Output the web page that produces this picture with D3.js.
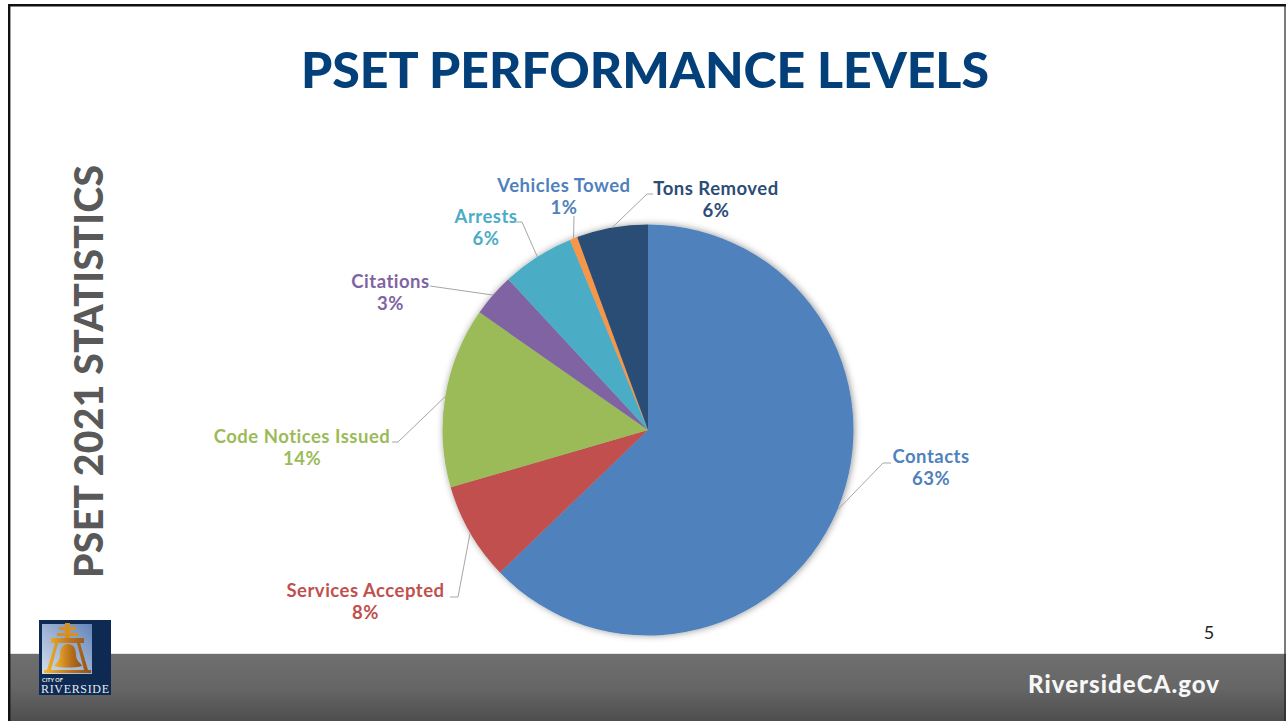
<!DOCTYPE html>
<html>
<head>
<meta charset="utf-8">
<title>PSET Performance Levels</title>
<script src="https://cdnjs.cloudflare.com/ajax/libs/d3/7.8.5/d3.min.js"></script>
<style>
html, body { margin: 0; padding: 0; background: #fff; overflow: hidden; }
svg { display: block; }
text { font-family: Lato, "Open Sans", sans-serif; font-weight: 700; }
</style>
</head>
<body>
<div id="slide"></div>
<script>
var width = 1286,
    height = 721;

// values, in percent
var categories = ["Contacts", "Services Accepted", "Code Notices Issued", "Citations", "Arrests", "Vehicles Towed", "Tons Removed"];
var shares = [62.8, 7.7, 14.2, 3.4, 5.7, 0.6, 5.6];
var sliceColors = ["#4f81bd", "#c0504d", "#9bbb59", "#8064a2", "#4bacc6", "#f79646", "#2c4d75"];
var labelColors = ["#4f81bd", "#c0504d", "#9bbb59", "#8064a2", "#4bacc6", "#4f81bd", "#2c4d75"];

// where the labels sit and how the leaders bend
var labelSpots = [[931, 463], [365.5, 597], [302, 443], [390.5, 288], [486, 223], [564, 192], [716, 195]];
var leaderBends = [[[883, 463], [891, 463]], [[458, 597], [450, 597]], [[398, 442], [392, 442]], [[430, 286], [430, 286]], [[522, 222], [515, 222]], [[574, 216], [574, 216]], [[647, 194], [653, 194]]];

var svg = d3.select("#slide")
    .append("svg")
    .attr("width", width)
    .attr("height", height);

var defs = svg.append("defs");

var footerFill = defs.append("linearGradient")
    .attr("id", "footerFill")
    .attr("x1", 0).attr("y1", 0).attr("x2", 0).attr("y2", 1);
footerFill.append("stop").attr("offset", "0%").attr("stop-color", "#6f6f6f");
footerFill.append("stop").attr("offset", "50%").attr("stop-color", "#666666");
footerFill.append("stop").attr("offset", "100%").attr("stop-color", "#4e4e4e");

var skyFill = defs.append("linearGradient")
    .attr("id", "skyFill")
    .attr("x1", 0).attr("y1", 1).attr("x2", 1).attr("y2", 0);
skyFill.append("stop").attr("offset", "0%").attr("stop-color", "#d5deee");
skyFill.append("stop").attr("offset", "100%").attr("stop-color", "#6485b8");

var bellFill = defs.append("linearGradient")
    .attr("id", "bellFill")
    .attr("x1", 0).attr("y1", 0).attr("x2", 1).attr("y2", 0);
bellFill.append("stop").attr("offset", "0%").attr("stop-color", "#f5b82a");
bellFill.append("stop").attr("offset", "60%").attr("stop-color", "#b8701c");
bellFill.append("stop").attr("offset", "100%").attr("stop-color", "#8f5218");

var pieShadow = defs.append("filter")
    .attr("id", "pieShadow")
    .attr("x", "-10%").attr("y", "-10%").attr("width", "120%").attr("height", "120%");
pieShadow.append("feDropShadow")
    .attr("dx", 1).attr("dy", 0)
    .attr("stdDeviation", 3.5)
    .attr("flood-color", "#000")
    .attr("flood-opacity", 0.42);

// slide frame and footer
svg.append("rect")
    .attr("x", 10).attr("y", 654)
    .attr("width", width - 10).attr("height", height - 654)
    .attr("fill", "url(#footerFill)");
svg.append("line")
    .attr("x1", 10).attr("y1", 653.5).attr("x2", width).attr("y2", 653.5)
    .attr("stroke", "#e4e4e4");
svg.append("path")
    .attr("d", "M9.2," + height + "V5.2H" + width)
    .attr("fill", "none")
    .attr("stroke", "#111")
    .attr("stroke-width", 2.4);
svg.append("line")
    .attr("x1", width - 1).attr("y1", 5).attr("x2", width - 1).attr("y2", height)
    .attr("stroke", "#222").attr("stroke-width", 1.2);

svg.append("text")
    .attr("x", 645).attr("y", 88)
    .attr("text-anchor", "middle")
    .attr("font-size", 50)
    .attr("textLength", 688)
    .attr("fill", "#03407a")
    .style("font-weight", 900)
    .text("PSET PERFORMANCE LEVELS");

svg.append("text")
    .attr("transform", "translate(103,578) rotate(-90)")
    .attr("font-size", 39)
    .attr("textLength", 413)
    .attr("fill", "#595959")
    .style("font-weight", 900)
    .text("PSET 2021 STATISTICS");

svg.append("text")
    .attr("x", 1209).attr("y", 639)
    .attr("text-anchor", "middle")
    .attr("font-size", 18)
    .attr("fill", "#222")
    .style("font-weight", 400)
    .text("5");

svg.append("text")
    .attr("x", 1028).attr("y", 693)
    .attr("font-size", 24)
    .attr("textLength", 191)
    .attr("fill", "#f7f7f7")
    .style("font-weight", 900)
    .text("RiversideCA.gov");

// the pie
var radius = 205.5;
var centerX = 648,
    centerY = 430;

var pie = d3.pie().sort(null)(shares);
var arc = d3.arc().innerRadius(0).outerRadius(radius);
var edge = d3.arc().innerRadius(radius).outerRadius(radius);

var chart = svg.append("g")
    .attr("transform", "translate(" + centerX + "," + centerY + ")");

chart.append("g")
    .attr("filter", "url(#pieShadow)")
    .selectAll("path")
    .data(pie)
    .enter()
    .append("path")
    .attr("d", arc)
    .attr("fill", function(d, i) { return sliceColors[i]; });

var leader = d3.line();
svg.append("g")
    .selectAll("path")
    .data(pie)
    .enter()
    .append("path")
    .attr("d", function(d, i) {
      var c = edge.centroid(d);
      return leader([[c[0] + centerX, c[1] + centerY]].concat(leaderBends[i]));
    })
    .attr("fill", "none")
    .attr("stroke", "#a6a6a6")
    .attr("stroke-width", 1);

var labels = svg.append("g")
    .selectAll("text")
    .data(categories)
    .enter()
    .append("text")
    .attr("text-anchor", "middle")
    .attr("font-size", 18.5)
    .attr("letter-spacing", 0.5)
    .attr("fill", function(d, i) { return labelColors[i]; });

labels.append("tspan")
    .attr("x", function(d, i) { return labelSpots[i][0]; })
    .attr("y", function(d, i) { return labelSpots[i][1]; })
    .text(function(d) { return d; });

labels.append("tspan")
    .attr("x", function(d, i) { return labelSpots[i][0]; })
    .attr("y", function(d, i) { return labelSpots[i][1] + 22; })
    .text(function(d, i) { return Math.round(shares[i]) + "%"; });

// city logo
var logo = svg.append("g").attr("transform", "translate(39,620)");
logo.append("rect").attr("width", 72).attr("height", 75).attr("fill", "#0f2a52");
logo.append("rect").attr("x", 3).attr("y", 4).attr("width", 50).attr("height", 50)
    .attr("fill", "url(#skyFill)");
logo.append("path")
    .attr("d", "M26,3h5v4h6v3h-6v3h8v3h-8v3h-5v-3h-8v-3h8v-3h-6v-3h6z")
    .attr("fill", "#d98f1e");
logo.append("path")
    .attr("d", "M12,18h33v5h-4l8,27h3v3H5v-3h3l8,-27h-4zM19,23l-7,27h33l-7,-27z")
    .attr("fill", "url(#bellFill)")
    .attr("fill-rule", "evenodd");
logo.append("path")
    .attr("d", "M29,24c6,0 8,5 8,11c0,6 5,8 6,11c-8,2 -21,2 -28,0c2,-3 6,-5 6,-11c0,-6 2,-11 8,-11z")
    .attr("fill", "url(#bellFill)");
logo.append("text")
    .attr("x", 3).attr("y", 62)
    .attr("font-size", 5.5)
    .attr("fill", "#e6ebf2")
    .text("CITY OF");
logo.append("text")
    .attr("x", 2).attr("y", 73)
    .attr("font-size", 12)
    .attr("textLength", 68)
    .attr("fill", "#e6ebf2")
    .style("font-family", "'Liberation Serif', serif")
    .style("font-weight", 400)
    .text("RIVERSIDE");
</script>
</body>
</html>
